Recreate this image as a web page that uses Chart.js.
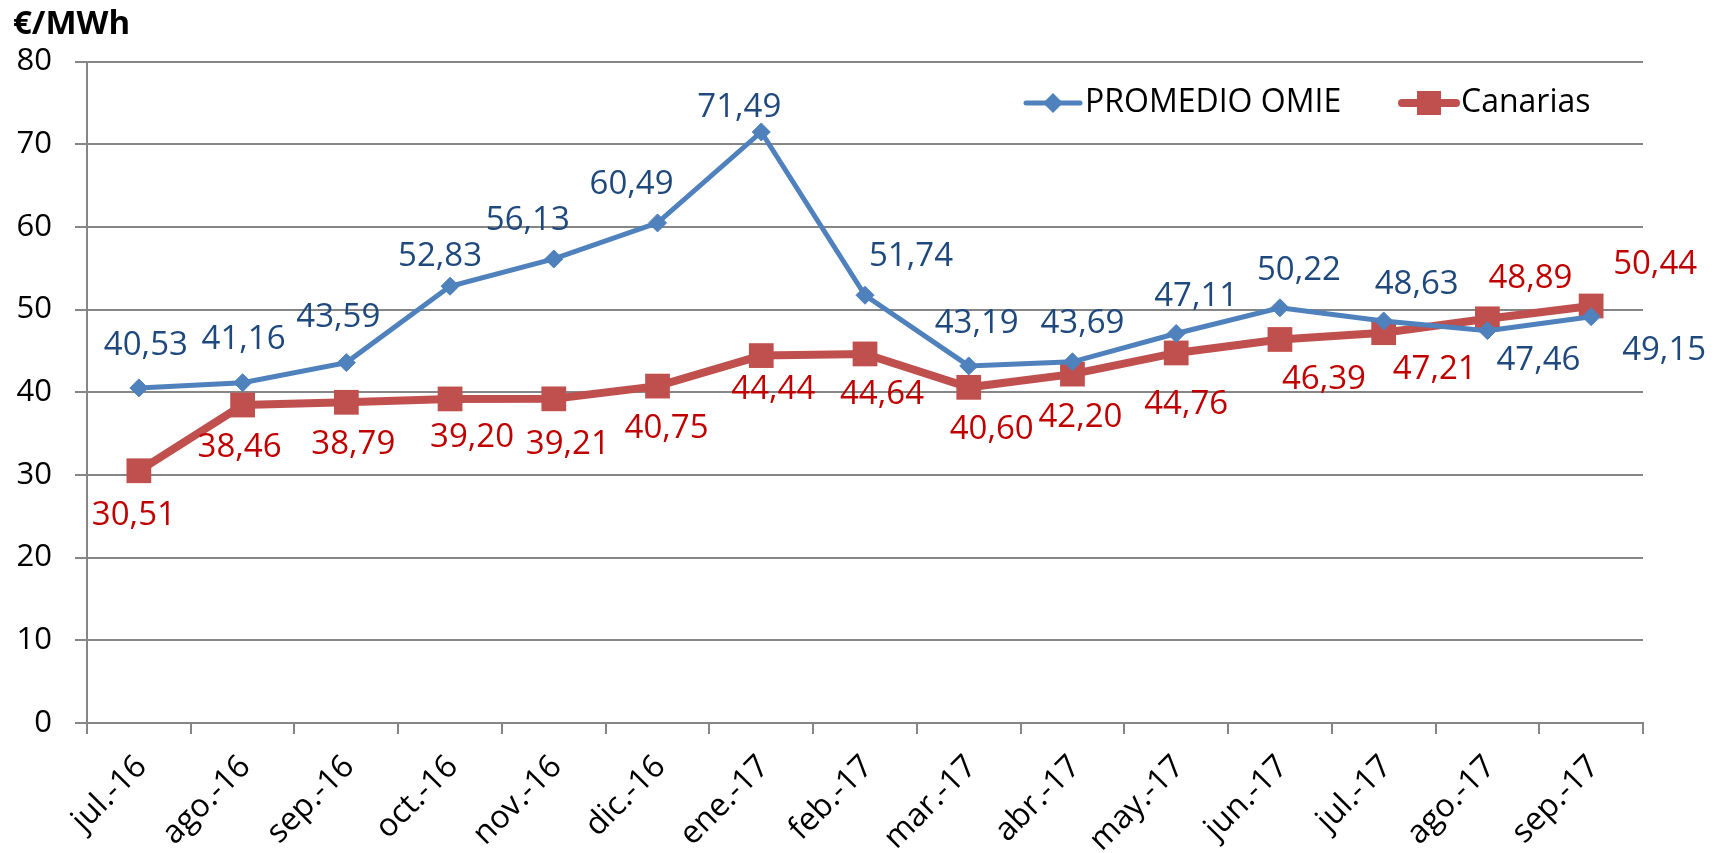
<!DOCTYPE html>
<html>
<head>
<meta charset="utf-8">
<script src="https://cdn.jsdelivr.net/npm/chart.js@4.4.1/dist/chart.umd.min.js"></script>
<style>
  body { margin: 0; background: #fff; }
  #chart { display: block; }
</style>
</head>
<body>
<canvas id="chart" width="1721" height="853"></canvas>
<script>
// Datos del gráfico
var meses = ['jul.-16', 'ago.-16', 'sep.-16', 'oct.-16', 'nov.-16', 'dic.-16', 'ene.-17', 'feb.-17',
             'mar.-17', 'abr.-17', 'may.-17', 'jun.-17', 'jul.-17', 'ago.-17', 'sep.-17'];
var promedioOmie = [40.53, 41.16, 43.59, 52.83, 56.13, 60.49, 71.49, 51.74, 43.19, 43.69, 47.11, 50.22, 48.63, 47.46, 49.15];
var canarias = [30.51, 38.46, 38.79, 39.20, 39.21, 40.75, 44.44, 44.64, 40.60, 42.20, 44.76, 46.39, 47.21, 48.89, 50.44];
var yTicks = [0, 10, 20, 30, 40, 50, 60, 70, 80];

// desplazamiento de cada etiqueta respecto a su punto (px)
var offsetOmie = [[7,-42],[1,-43],[-8,-45],[-10,-30],[-26,-38],[-26,-38],[-22,-24],[46,-39],
                  [8,-42],[10,-38],[20,-37],[19,-37],[33,-36],[51,30],[73,34]];
var offsetCan = [[-5,45],[-3,43],[7,42],[22,39],[14,46],[9,42],[12,34],[17,41],
                 [23,42],[8,43],[10,52],[44,40],[51,37],[43,-40],[64,-41]];

var AZUL = '#4F81BD', ROJO = '#C0504D', GRIS = '#868686';
var FUENTE = '"Open Sans", sans-serif';

function fmt(v) { return v.toFixed(2).replace('.', ','); }

var etiquetas = {
    id: 'etiquetas',
    afterDatasetsDraw: function(chart) {
        var ctx = chart.ctx;
        var conf = [
            { offs: offsetOmie, color: '#1F497D', vals: promedioOmie },
            { offs: offsetCan, color: '#C00000', vals: canarias }
        ];
        ctx.save();
        ctx.font = '33px ' + FUENTE;
        ctx.textAlign = 'center';
        ctx.textBaseline = 'middle';
        conf.forEach(function(c, di) {
            var meta = chart.getDatasetMeta(di);
            ctx.fillStyle = c.color;
            meta.data.forEach(function(pt, i) {
                ctx.fillText(fmt(c.vals[i]), pt.x + c.offs[i][0], pt.y + c.offs[i][1]);
            });
        });
        ctx.restore();
    }
};

var leyenda = {
    id: 'leyenda',
    afterDraw: function(chart) {
        var ctx = chart.ctx;
        var y = 103;
        ctx.save();
        // PROMEDIO OMIE
        ctx.strokeStyle = AZUL; ctx.lineWidth = 5; ctx.lineCap = 'round';
        ctx.beginPath(); ctx.moveTo(1026, y); ctx.lineTo(1080, y); ctx.stroke();
        ctx.fillStyle = AZUL;
        ctx.beginPath();
        ctx.moveTo(1053 - 10, y); ctx.lineTo(1053, y - 10); ctx.lineTo(1053 + 10, y); ctx.lineTo(1053, y + 10);
        ctx.closePath(); ctx.fill();
        // Canarias
        ctx.strokeStyle = ROJO; ctx.lineWidth = 8;
        ctx.beginPath(); ctx.moveTo(1402, y); ctx.lineTo(1456, y); ctx.stroke();
        ctx.fillStyle = ROJO;
        ctx.fillRect(1429 - 12, y - 12, 24, 24);
        ctx.fillStyle = '#000';
        ctx.font = '32px ' + FUENTE;
        ctx.textAlign = 'left';
        ctx.textBaseline = 'middle';
        ctx.fillText('PROMEDIO OMIE', 1085, y);
        ctx.fillText('Canarias', 1461, y);
        ctx.restore();
    }
};

new Chart(document.getElementById('chart').getContext('2d'), {
    type: 'line',
    data: {
        labels: meses,
        datasets: [{
            label: 'PROMEDIO OMIE',
            data: promedioOmie,
            borderColor: AZUL,
            backgroundColor: AZUL,
            borderWidth: 5,
            pointStyle: 'rectRot',
            pointRadius: 9,
            pointBorderWidth: 1,
            pointBackgroundColor: AZUL,
            pointBorderColor: AZUL,
            tension: 0,
            clip: false
        }, {
            label: 'Canarias',
            data: canarias,
            borderColor: ROJO,
            backgroundColor: ROJO,
            borderWidth: 8,
            pointStyle: 'rect',
            pointRadius: 17.5,
            pointBorderWidth: 0,
            pointBackgroundColor: ROJO,
            tension: 0,
            clip: false
        }]
    },
    options: {
        responsive: false,
        animation: false,
        layout: { padding: { left: 13, right: 78, top: 0, bottom: 0 } },
        plugins: {
            legend: { display: false },
            tooltip: { enabled: false },
            title: {
                display: true,
                text: '€/MWh',
                align: 'start',
                color: '#000',
                font: { family: FUENTE, size: 33, weight: 'bold' },
                padding: { top: 5, bottom: 17 }
            }
        },
        scales: {
            x: {
                offset: true,
                afterFit: function(s) { s.height = 130; },
                grid: { drawOnChartArea: false, drawTicks: true, tickLength: 11, color: GRIS, lineWidth: 2, offset: true },
                border: { color: GRIS, width: 2 },
                ticks: {
                    color: '#000',
                    font: { family: FUENTE, size: 32 },
                    minRotation: 45, maxRotation: 45,
                    autoSkip: false,
                    padding: 14,
                    labelOffset: 3
                }
            },
            y: {
                min: 0, max: 80,
                afterFit: function(s) { s.width = 74; },
                afterBuildTicks: function(s) { s.ticks = yTicks.map(function(v) { return { value: v }; }); },
                grid: { color: GRIS, lineWidth: 2, drawTicks: true, tickLength: 12 },
                border: { color: GRIS, width: 2 },
                ticks: {
                    color: '#000',
                    font: { family: FUENTE, size: 31 },
                    padding: 23
                }
            }
        }
    },
    plugins: [etiquetas, leyenda]
});
</script>
</body>
</html>
